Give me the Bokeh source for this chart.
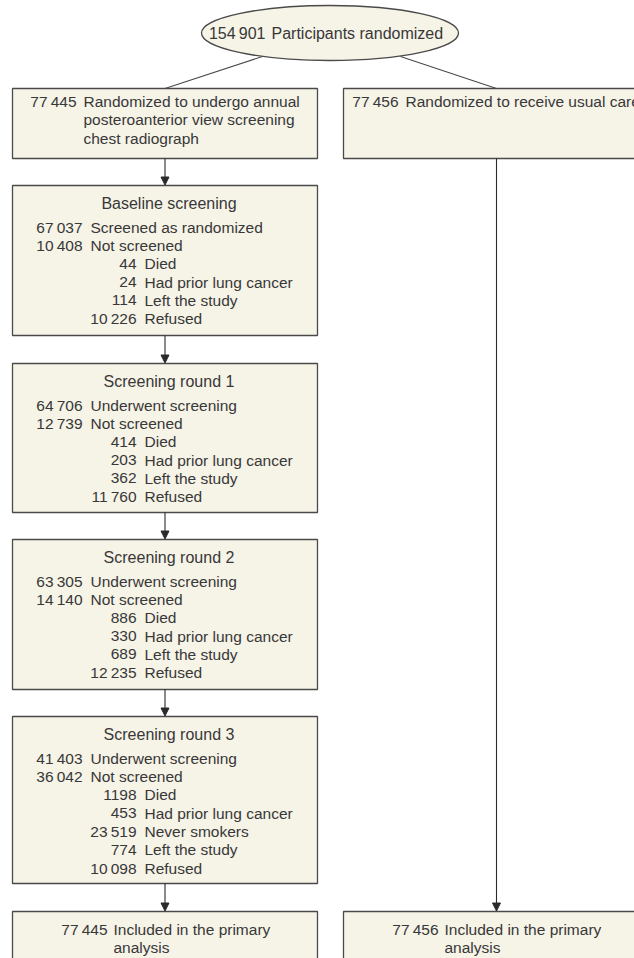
from bokeh.plotting import figure
from bokeh.models import Range1d, Arrow, NormalHead
from bokeh.core.properties import value
from bokeh.embed import file_html
from bokeh.resources import INLINE

# ---------------- data ----------------
total_randomized = 154901
arm_counts = [77445, 77456]
arm_labels = [
    ["Randomized to undergo annual", "posteroanterior view screening", "chest radiograph"],
    ["Randomized to receive usual care"],
]
round_titles = ["Baseline screening", "Screening round 1", "Screening round 2", "Screening round 3"]
screened = [67037, 64706, 63305, 41403]
screened_labels = ["Screened as randomized", "Underwent screening", "Underwent screening", "Underwent screening"]
not_screened = [10408, 12739, 14140, 36042]
died = [44, 414, 886, 1198]
prior_cancer = [24, 203, 330, 453]
never_smokers = [None, None, None, 23519]
left_study = [114, 362, 689, 774]
refused = [10226, 11760, 12235, 10098]
included = [77445, 77456]
included_labels = [["Included in the primary", "analysis"], ["Included in the primary", "analysis"]]

# ---------------- style ----------------
FONT = value("Liberation Sans")
FS = "15.5px"
FS_T = "16px"
TXT = "#383838"
FILL = "#f6f3e7"
EDGE = "#4a4a4a"


def fmt(n):
    s = str(n)
    if len(s) < 5:
        return s
    return f"{n:,}".replace(",", "\u2009")


p = figure(width=634, height=958, output_backend="svg", toolbar_location=None,
           x_range=Range1d(0, 634), y_range=Range1d(958, 0),
           x_axis_location=None, y_axis_location=None, min_border=0)
p.grid.visible = False
p.outline_line_color = None
p.background_fill_color = "white"
p.border_fill_color = "white"

# layout (reference pixel space)
LX0, LX1 = 12, 317
RX0, RX1 = 343, 660
LC, RC = 164.5, 496
box_top = [185, 363, 539, 716]
box_bottom = [335, 512, 689, 883]
TOP_T, TOP_B = 88, 158
BOT_T, BOT_B = 911, 990

# connecting lines from ellipse
p.segment(x0=[262, 400], y0=[56, 56], x1=[LC, RC], y1=[TOP_T, TOP_T], line_color=EDGE, line_width=1.1)

# ellipse
p.ellipse(x=[329.5], y=[32.5], width=[257], height=[55], fill_color=FILL, line_color=EDGE, line_width=1.3)
p.text(x=[265], y=[33], text=[fmt(total_randomized)], text_font=FONT, text_font_size=FS_T,
       text_color=TXT, text_align="right", text_baseline="middle")
p.text(x=[271], y=[33], text=["Participants randomized"], text_font=FONT, text_font_size=FS_T,
       text_color=TXT, text_align="left", text_baseline="middle")

# boxes
lefts = [LX0, RX0] + [LX0] * 4 + [LX0, RX0]
rights = [LX1, RX1] + [LX1] * 4 + [LX1, RX1]
tops = [TOP_T, TOP_T] + box_top + [BOT_T, BOT_T]
bottoms = [TOP_B, TOP_B] + box_bottom + [BOT_B, BOT_B]
p.quad(left=lefts, right=rights, top=tops, bottom=bottoms, fill_color=FILL, line_color=EDGE, line_width=1.3)

nx, ny, nt, lx, ly, lt = [], [], [], [], [], []

# top arm boxes
arm_num_right = [76, 398]
for i in range(2):
    nx.append(arm_num_right[i]); ny.append(101); nt.append(fmt(arm_counts[i]))
    for j, lab in enumerate(arm_labels[i]):
        lx.append(arm_num_right[i] + 7); ly.append(101 + 18.4 * j); lt.append(lab)

# round boxes
tx, ty, tt = [], [], []
for r in range(4):
    top = box_top[r]
    tx.append(LC + 4); ty.append(top + 18); tt.append(round_titles[r])
    rows = [(1, screened[r], screened_labels[r]), (1, not_screened[r], "Not screened"),
            (2, died[r], "Died"), (2, prior_cancer[r], "Had prior lung cancer")]
    if never_smokers[r] is not None:
        rows.append((2, never_smokers[r], "Never smokers"))
    rows += [(2, left_study[r], "Left the study"), (2, refused[r], "Refused")]
    for k, (lvl, n, lab) in enumerate(rows):
        y = top + 41.5 + 18.35 * k
        xr = 82 if lvl == 1 else 136
        nx.append(xr); ny.append(y); nt.append(fmt(n))
        lx.append(xr + 8); ly.append(y); lt.append(lab)

# bottom boxes
inc_num_right = [107, 438]
for i in range(2):
    nx.append(inc_num_right[i]); ny.append(929); nt.append(fmt(included[i]))
    for j, lab in enumerate(included_labels[i]):
        lx.append(inc_num_right[i] + 6); ly.append(929 + 18 * j); lt.append(lab)

p.text(x=tx, y=ty, text=tt, text_font=FONT, text_font_size=FS_T, text_color=TXT,
       text_align="center", text_baseline="middle")
p.text(x=nx, y=ny, text=nt, text_font=FONT, text_font_size=FS, text_color=TXT,
       text_align="right", text_baseline="middle")
p.text(x=lx, y=ly, text=lt, text_font=FONT, text_font_size=FS, text_color=TXT,
       text_align="left", text_baseline="middle")

# arrows
arrow_segments = [(LC, TOP_B, LC, box_top[0])]
for r in range(3):
    arrow_segments.append((LC, box_bottom[r], LC, box_top[r + 1]))
arrow_segments.append((LC, box_bottom[3], LC, BOT_T))
arrow_segments.append((RC, TOP_B, RC, BOT_T))
for (x0, y0, x1, y1) in arrow_segments:
    p.add_layout(Arrow(end=NormalHead(size=8, fill_color="#2a2a2a", line_color="#2a2a2a", line_width=1),
                       x_start=x0, y_start=y0, x_end=x1, y_end=y1 - 0.5,
                       line_color="#2a2a2a", line_width=1.1))

open("out.html", "w").write(file_html(p, INLINE))
